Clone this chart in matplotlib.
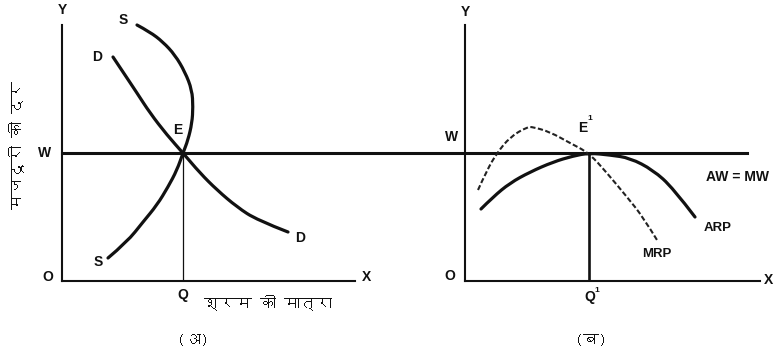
import matplotlib
matplotlib.use("Agg")
import matplotlib.pyplot as plt
from matplotlib import font_manager as fm
from matplotlib.ft2font import FT2Font
from matplotlib.path import Path
from matplotlib.patches import PathPatch

# ---------------- data (arbitrary units: quantity of labour, wage rate) ----------------
S_x = [75, 88, 101, 113, 123, 130, 131, 130, 126, 121, 115, 106, 95, 81, 65, 46]
S_y = [256, 249, 239, 226, 209, 191, 174, 158, 141, 128, 111, 94, 76, 59, 39, 23]
D_x = [51, 61, 75, 88, 105, 121, 138, 155, 175, 195, 226]
D_y = [224, 209, 188, 168, 146, 128, 108, 91, 74, 61, 49]
W_level = 128
Q_left = 121
ARP_x = [16, 28, 45, 65, 88, 108, 124, 145, 165, 188, 208, 230]
ARP_y = [72, 84, 98, 109, 119, 125, 128, 126, 123, 111, 93, 64]
MRP_x = [13, 22, 32, 45, 62, 68, 85, 105, 124, 142, 162, 178, 192]
MRP_y = [91, 111, 128, 144, 154, 154, 149, 138, 128, 108, 84, 64, 41]
Q_right = 124

ylabel_hi = "मजदूरी की दर"
xlabel_hi = "श्रम की मात्रा"
panel_a = "(अ)"
panel_b = "(ब)"

# ---------------- find a font with Devanagari glyphs ----------------
deva_family = None
for f in fm.fontManager.ttflist:
    try:
        cm = FT2Font(f.fname).get_charmap()
        if 0x0915 in cm and 0x092E in cm:
            deva_family = f.name
            break
    except Exception:
        pass
deva_fams = ([deva_family] if deva_family else []) + ["DejaVu Sans"]

plt.rcParams["font.family"] = ["Liberation Sans", "DejaVu Sans"]


def smooth_curve(ax, xs, ys, **kw):
    """Draw a smooth quadratic-Bezier path guided by the given points."""
    pts = list(zip(xs, ys))
    verts = [pts[0]]
    codes = [Path.MOVETO]
    for i in range(1, len(pts) - 1):
        mid = ((pts[i][0] + pts[i + 1][0]) / 2.0, (pts[i][1] + pts[i + 1][1]) / 2.0)
        if i == len(pts) - 2:
            mid = pts[i + 1]
        verts += [pts[i], mid]
        codes += [Path.CURVE3, Path.CURVE3]
    patch = PathPatch(Path(verts, codes), fill=False, transform=ax.transData,
                      clip_on=False, **kw)
    ax.add_patch(patch)


fig = plt.figure(figsize=(7.78, 3.62), dpi=100)
fig.patch.set_facecolor("white")

W, H = 778.0, 362.0
axL = fig.add_axes([62 / W, (H - 281) / H, 293 / W, 256 / H])
axR = fig.add_axes([465 / W, (H - 281) / H, 295 / W, 256 / H])

for ax, xmax in ((axL, 293), (axR, 295)):
    ax.set_xlim(0, xmax)
    ax.set_ylim(0, 256)
    ax.patch.set_alpha(0)
    for s in ("top", "right"):
        ax.spines[s].set_visible(False)
    for s in ("left", "bottom"):
        ax.spines[s].set_linewidth(1.5)
        ax.spines[s].set_color("#111111")
    ax.set_xticks([])
    ax.set_yticks([])

lab = dict(fontsize=10, fontweight="bold", color="#111111", ha="center", va="center")
hi = dict(fontsize=11.5, fontweight="bold", color="#111111", ha="center", va="center",
          family=deva_fams, clip_on=False)

# ---------------- left panel ----------------
smooth_curve(axL, S_x, S_y, edgecolor="#111111", lw=2.3, capstyle="round")
smooth_curve(axL, D_x, D_y, edgecolor="#111111", lw=2.3, capstyle="round")
axL.plot([0, 685], [W_level, W_level], color="#111111", lw=2.2, clip_on=False)
axL.plot([Q_left, Q_left], [0, W_level], color="#111111", lw=0.9)

axL.text(0, 271, "Y", clip_on=False, **lab)
axL.text(-14, 4, "O", clip_on=False, **lab)
axL.text(-17, W_level, "W", clip_on=False, **lab)
axL.text(305, 4, "X", clip_on=False, **lab)
axL.text(Q_left, -14, "Q", clip_on=False, **lab)
axL.text(61, 261, "S", clip_on=False, **lab)
axL.text(36, 19, "S", clip_on=False, **lab)
axL.text(35, 224, "D", clip_on=False, **lab)
axL.text(238, 43, "D", clip_on=False, **lab)
axL.text(116, 151, "E", clip_on=False, **lab)
axL.text(206, -22, xlabel_hi, **hi)
axL.text(131, -59, panel_a, **hi)
axL.text(-45, 136, ylabel_hi, rotation=90, **hi)

# ---------------- right panel ----------------
smooth_curve(axR, ARP_x, ARP_y, edgecolor="#111111", lw=2.3, capstyle="round")
smooth_curve(axR, MRP_x, MRP_y, edgecolor="#222222", lw=1.5, linestyle=(0, (2.5, 1.2)))
axR.plot([Q_right, Q_right], [0, W_level], color="#111111", lw=1.9)

axR.text(0, 269, "Y", clip_on=False, **lab)
axR.text(-13, 144, "W", clip_on=False, **lab)
axR.text(-15, 5, "O", clip_on=False, **lab)
axR.text(304, 1, "X", clip_on=False, **lab)
axR.text(Q_right + 1, -16, "Q", clip_on=False, **lab)
axR.text(Q_right + 8, -9, "1", fontsize=6, fontweight="bold", color="#111111",
         ha="center", va="center", clip_on=False)
axR.text(118, 153, "E", clip_on=False, **lab)
axR.text(125, 162, "1", fontsize=6, fontweight="bold", color="#111111",
         ha="center", va="center", clip_on=False)
axR.text(272, 104, "AW = MW", clip_on=False, **lab)
axR.text(253, 53, "ARP", fontsize=9.5, fontweight="bold", color="#111111",
         ha="center", va="center", clip_on=False)
axR.text(192, 27, "MRP", fontsize=9.5, fontweight="bold", color="#111111",
         ha="center", va="center", clip_on=False)
axR.text(126, -60, panel_b, **hi)

fig.savefig("out.png", dpi=100, facecolor="white")
